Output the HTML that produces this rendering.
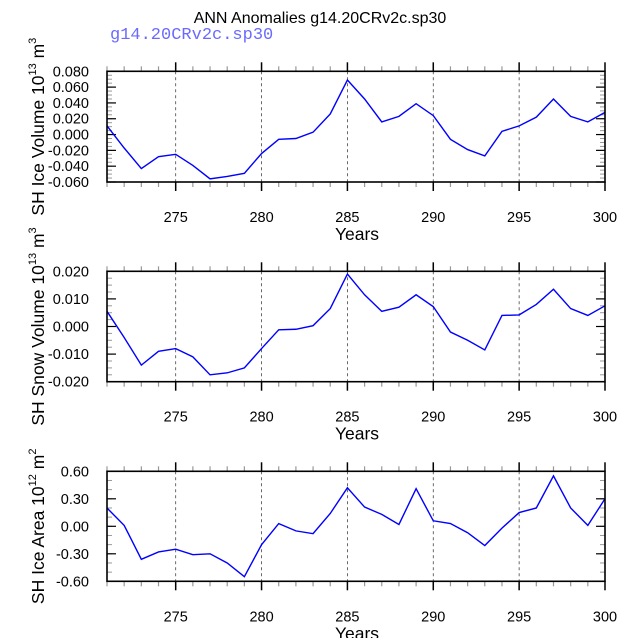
<!DOCTYPE html>
<html><head><meta charset="utf-8"><style>
body{margin:0;background:#fff}
svg{display:block;font-family:"Liberation Sans",sans-serif}
</style></head><body>
<svg id="c" width="638" height="638" viewBox="0 0 638 638">
<text x="320" y="23" font-size="16" text-anchor="middle">ANN Anomalies g14.20CRv2c.sp30</text>
<text x="110" y="39" font-size="17" fill="#6a6aff" font-family="Liberation Mono, monospace">g14.20CRv2c.sp30</text>
</svg>
<script>
const years=[271,272,273,274,275,276,277,278,279,280,281,282,283,284,285,286,287,288,289,290,291,292,293,294,295,296,297,298,299,300];
const iceVolume=[0.011,-0.017,-0.043,-0.028,-0.025,-0.039,-0.056,-0.053,-0.049,-0.024,-0.006,-0.005,0.003,0.026,0.069,0.045,0.016,0.023,0.039,0.024,-0.006,-0.019,-0.027,0.004,0.011,0.022,0.045,0.023,0.016,0.028];
const snowVolume=[0.0055,-0.004,-0.014,-0.009,-0.008,-0.011,-0.0175,-0.0168,-0.015,-0.008,-0.0012,-0.001,0.0003,0.0065,0.019,0.0115,0.0055,0.007,0.0115,0.0072,-0.002,-0.005,-0.0085,0.004,0.0042,0.008,0.0135,0.0065,0.004,0.0075];
const iceArea=[0.20,0.01,-0.36,-0.28,-0.25,-0.31,-0.30,-0.40,-0.55,-0.20,0.03,-0.05,-0.08,0.14,0.42,0.21,0.13,0.02,0.41,0.06,0.03,-0.07,-0.21,-0.02,0.15,0.20,0.55,0.20,0.01,0.30];
const xTicks=[275,280,285,290,295,300];
const iceVolTicks=["-0.060","-0.040","-0.020","0.000","0.020","0.040","0.060","0.080"];
const snowTicks=["-0.020","-0.010","0.000","0.010","0.020"];
const areaTicks=["-0.60","-0.30","0.00","0.30","0.60"];
const NS="http://www.w3.org/2000/svg";
const svg=document.getElementById('c');
function mk(t,a,p){const e=document.createElementNS(NS,t);for(const k in a)e.setAttribute(k,a[k]);(p||svg).appendChild(e);return e;}
const X0=107,X1=605,xmin=271,xmax=300;
const xs=v=>X0+(v-xmin)/(xmax-xmin)*(X1-X0);
function panel(name,top,bot,data,ticks,ymin,ymax,minorStep,label,sup,unit){
  const g=mk('g',{});
  
  
  const ys=v=>bot-(v-ymin)/(ymax-ymin)*(bot-top);
  xTicks.forEach(t=>{if(t<xmax){const l=mk('line',{x1:xs(t),x2:xs(t),y1:top,y2:bot,stroke:'#444','stroke-width':0.8,'stroke-dasharray':'3,3'},g);}});
  for(let y=xmin;y<=xmax;y++){const major=xTicks.includes(y);const len=major?9:5;
    mk('line',{x1:xs(y),x2:xs(y),y1:top-len,y2:top,stroke:major?'#000':'#999','stroke-width':major?1.5:1.2},g);
    mk('line',{x1:xs(y),x2:xs(y),y1:bot,y2:bot+len,stroke:major?'#000':'#999','stroke-width':major?1.5:1.2},g);}
  xTicks.forEach(t=>{const tx=mk('text',{x:xs(t),y:bot+40,'font-size':14.5,'text-anchor':'middle'},g);tx.textContent=t;});
  for(let v=ymin;v<=ymax+1e-9;v+=minorStep){mk('line',{x1:X0,x2:X0+5,y1:ys(v),y2:ys(v),stroke:'#999','stroke-width':1},g);mk('line',{x1:X1-5,x2:X1,y1:ys(v),y2:ys(v),stroke:'#999','stroke-width':1},g);}
  ticks.forEach(t=>{const v=parseFloat(t);mk('line',{x1:X0,x2:X0+9,y1:ys(v),y2:ys(v),stroke:'#000','stroke-width':1.2},g);mk('line',{x1:X1-9,x2:X1,y1:ys(v),y2:ys(v),stroke:'#000','stroke-width':1.2},g);
    const tx=mk('text',{x:89,y:ys(v)+5,'font-size':14.5,'text-anchor':'end'},g);tx.textContent=t;});
  const pts=data.map((d,i)=>xs(years[i])+','+ys(d)).join(' ');
  const pl=mk('polyline',{points:pts,fill:'none',stroke:'#0000ff','stroke-width':1.4},g);
  
  
  mk('rect',{x:X0,y:top,width:X1-X0,height:bot-top,fill:'none',stroke:'#000','stroke-width':1.6},g);
  const xl=mk('text',{x:357,y:bot+58,'font-size':17.5,'text-anchor':'middle'},g);xl.textContent='Years';
  
  const cy=(top+bot)/2;
  const yl=mk('text',{x:0,y:0,'font-size':17.5,'text-anchor':'middle',transform:`translate(44,${cy}) rotate(-90)`},g);
  
  const s1=mk('tspan',{},yl);s1.textContent=label+' 10';
  const s2=mk('tspan',{'font-size':11,dy:-8},yl);s2.textContent=sup;
  const s3=mk('tspan',{dy:8},yl);s3.textContent=' m';
  const s4=mk('tspan',{'font-size':11,dy:-8},yl);s4.textContent=unit;
}
panel('ice-volume',71.3,182,iceVolume,iceVolTicks,-0.06,0.08,0.005,'SH Ice Volume','13','3');
panel('snow-volume',271.3,381.7,snowVolume,snowTicks,-0.02,0.02,0.0025,'SH Snow Volume','13','3');
panel('ice-area',471.3,581.3,iceArea,areaTicks,-0.6,0.6,0.1,'SH Ice Area','12','2');
</script>
</body></html>
